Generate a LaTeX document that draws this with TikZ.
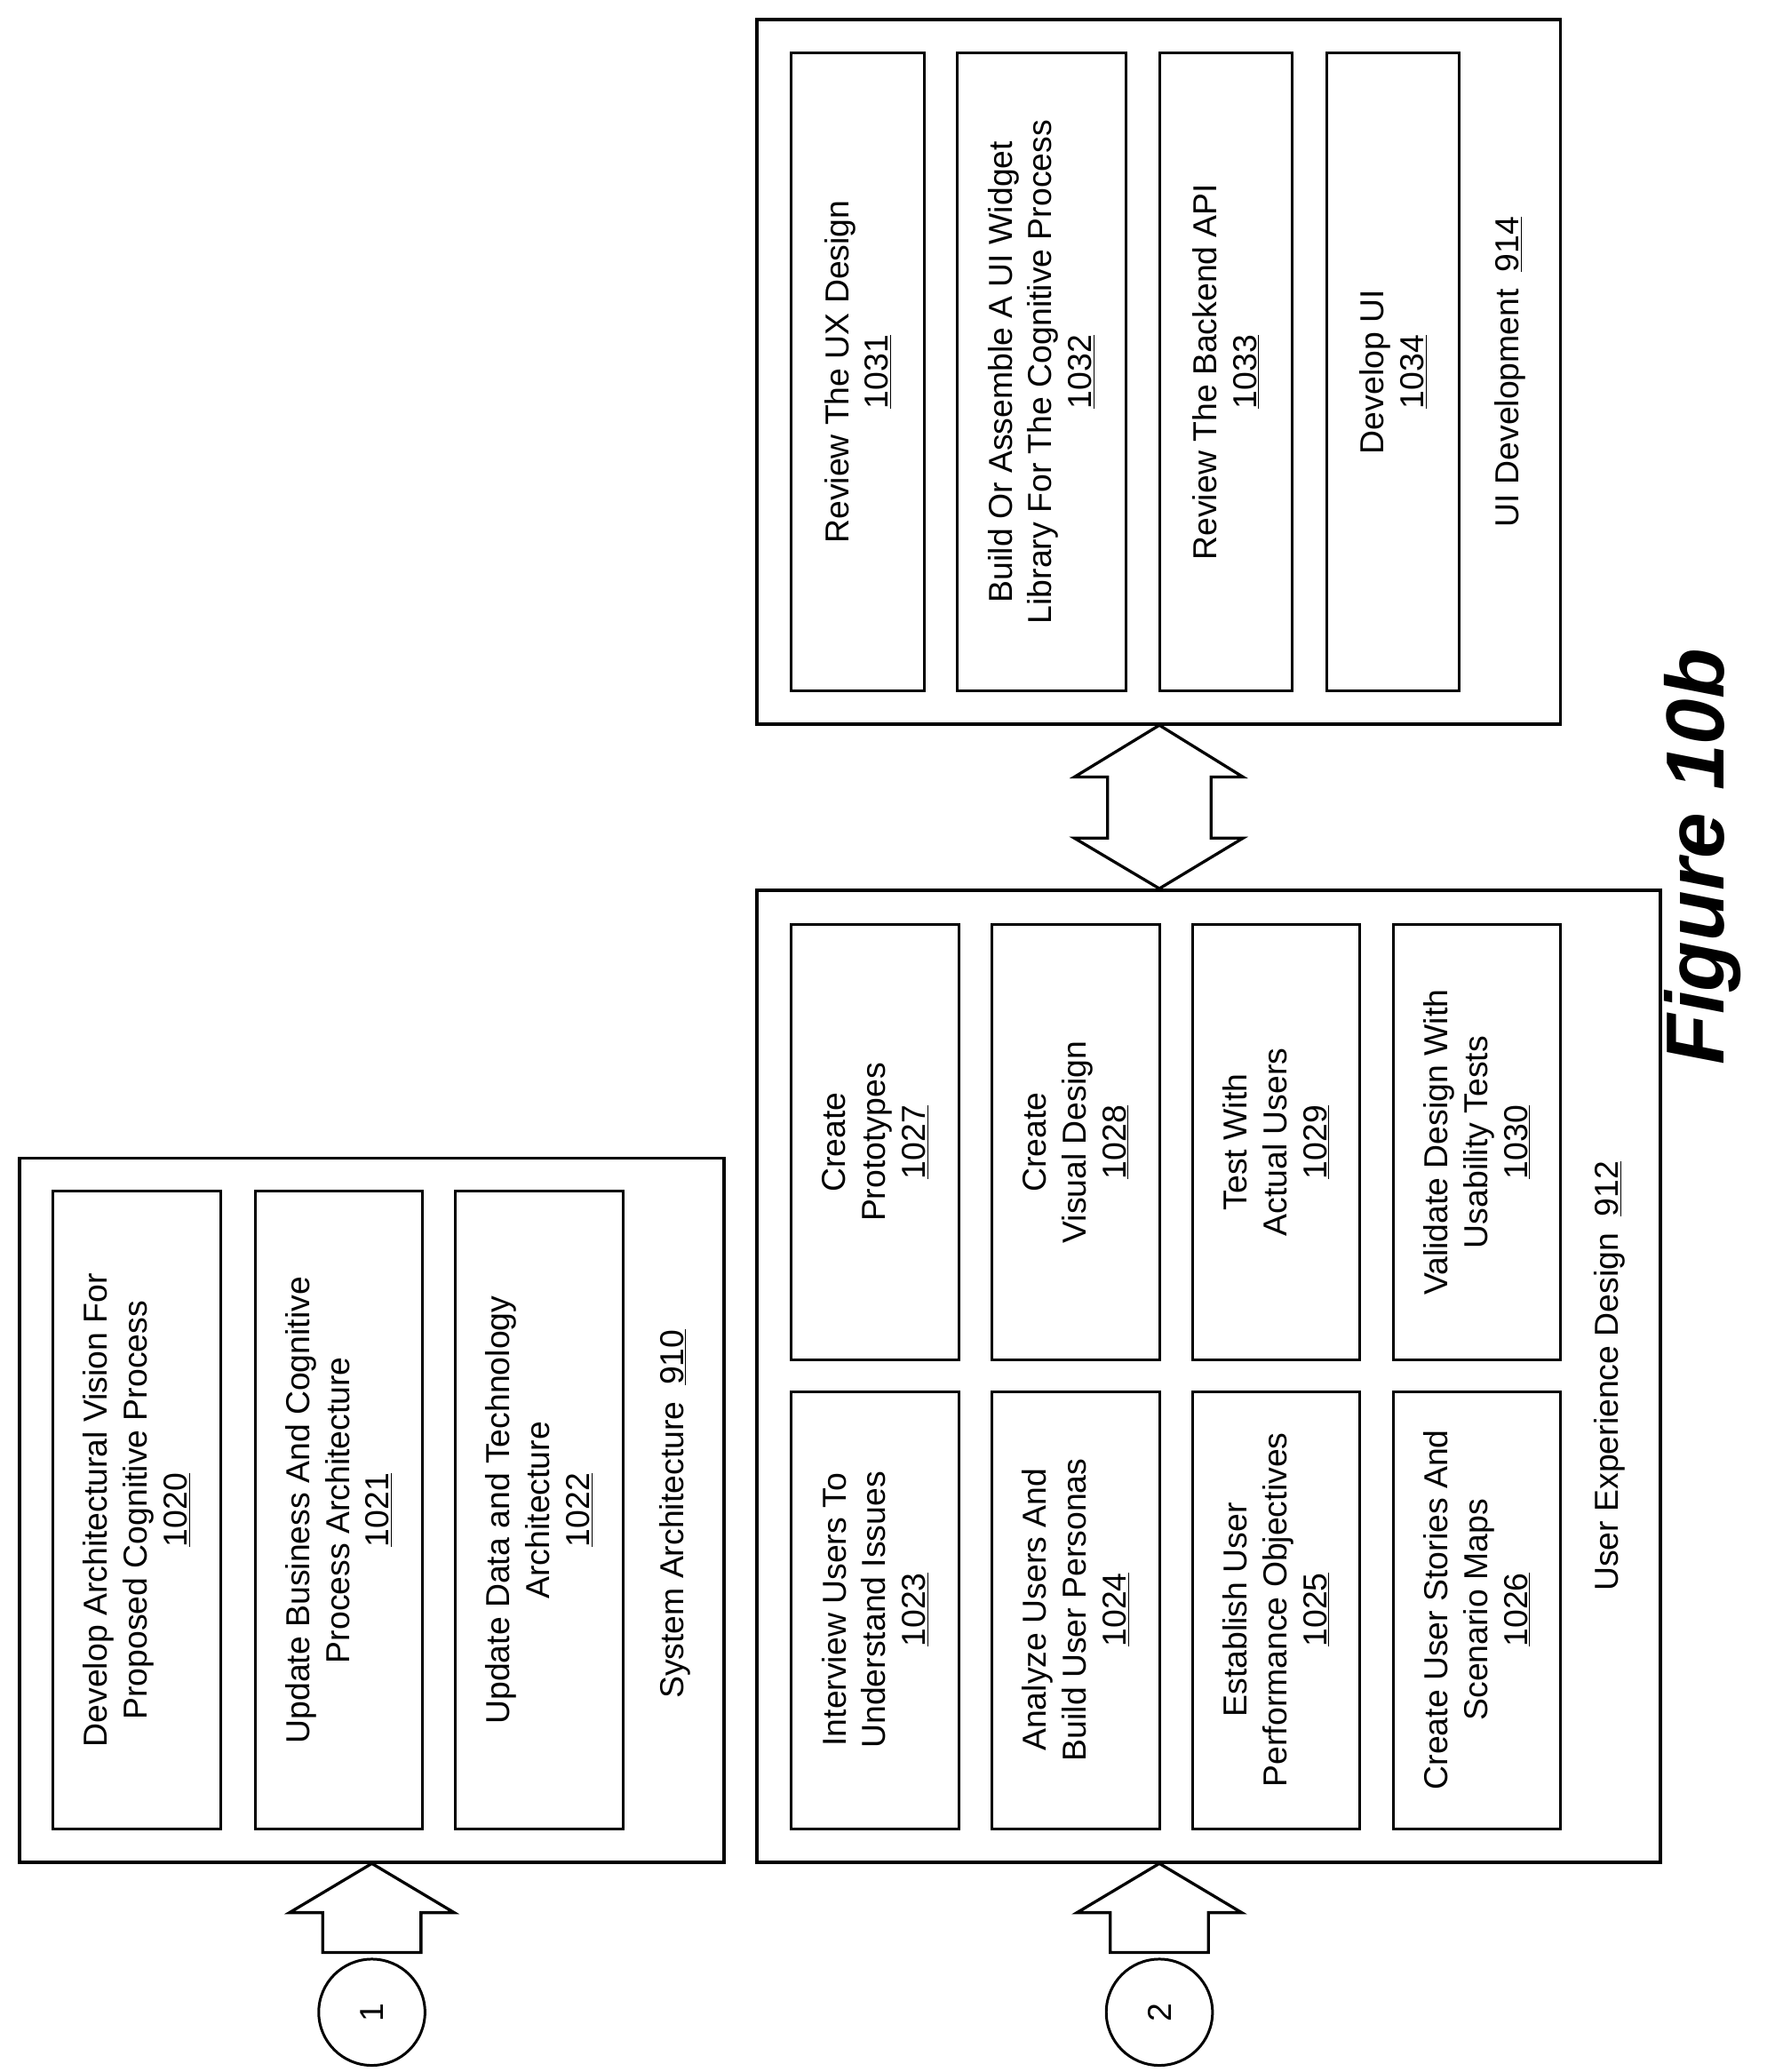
\documentclass[tikz,border=0pt]{standalone}
\usepackage{fontspec}
\setmainfont{Liberation Sans}
\begin{document}
\begin{tikzpicture}[x=1pt,y=-1pt,
  outer/.style={draw,line width=2.6pt},
  inner/.style={draw,line width=2pt},
  txt/.style={rotate=90,align=center,font=\fontsize{25}{30}\selectfont},
  barrow/.style={draw,line width=2.2pt,fill=white,line join=miter}]
\useasboundingbox (0,0) rectangle (1330,1560);
% System Architecture
\draw[outer] (15,872) rectangle (545,1402);
\foreach \x/\n in {40/a,192/b,343/c}{\draw[inner] (\x,897) rectangle (\x+126,1377);}
\node[txt] (t1020) at (103,1137) {Develop Architectural Vision For\\Proposed Cognitive Process\\\underline{1020}};
\node[txt] (t1021) at (255,1137) {Update Business And Cognitive\\Process Architecture\\\underline{1021}};
\node[txt] (t1022) at (406,1137) {Update Data and Technology\\Architecture\\\underline{1022}};
\node[txt] (l910) at (508,1140) {System Architecture\enspace\underline{910}};
% UX design
\draw[outer] (570,670) rectangle (1250,1402);
\foreach \x in {596,747,898,1049}{
  \draw[inner] (\x,1048) rectangle (\x+126,1377);
  \draw[inner] (\x,696) rectangle (\x+126,1024);}
\node[txt] (t1023) at (659,1212) {Interview Users To\\Understand Issues\\\underline{1023}};
\node[txt] (t1024) at (810,1212) {Analyze Users And\\Build User Personas\\\underline{1024}};
\node[txt] (t1025) at (961,1212) {Establish User\\Performance Objectives\\\underline{1025}};
\node[txt] (t1026) at (1112,1212) {Create User Stories And\\Scenario Maps\\\underline{1026}};
\node[txt] (t1027) at (659,860) {Create\\Prototypes\\\underline{1027}};
\node[txt] (t1028) at (810,860) {Create\\Visual Design\\\underline{1028}};
\node[txt] (t1029) at (961,860) {Test With\\Actual Users\\\underline{1029}};
\node[txt] (t1030) at (1112,860) {Validate Design With\\Usability Tests\\\underline{1030}};
\node[txt] (l912) at (1212,1036) {User Experience Design\enspace\underline{912}};
% UI development
\draw[outer] (570,15) rectangle (1175,545);
\foreach \x/\w in {596/100,721/127,873/100,999/100}{\draw[inner] (\x,40) rectangle (\x+\w,520);}
\node[txt] (t1031) at (646,280) {Review The UX Design\\\underline{1031}};
\node[txt] (t1032) at (784,280) {Build Or Assemble A UI Widget\\Library For The Cognitive Process\\\underline{1032}};
\node[txt] (t1033) at (923,280) {Review The Backend API\\\underline{1033}};
\node[txt] (t1034) at (1049,280) {Develop UI\\\underline{1034}};
\node[txt] (l914) at (1137,280) {UI Development\enspace\underline{914}};
% arrows up
\foreach \c in {280,873}{
  \draw[barrow] (\c,1403) -- (\c+62,1440) -- (\c+37,1440) -- (\c+37,1470) -- (\c-37,1470) -- (\c-37,1440) -- (\c-62,1440) -- cycle;}
% double arrow
\draw[barrow] (873,546) -- (936,585) -- (912,585) -- (912,631) -- (936,631) -- (873,669) -- (809,631) -- (834,631) -- (834,585) -- (809,585) -- cycle;
% circles
\node[draw,circle,line width=2pt,minimum size=80pt,inner sep=0pt,font=\fontsize{25}{30}\selectfont,rotate=90] (c1) at (280,1515) {1};
\node[draw,circle,line width=2pt,minimum size=80pt,inner sep=0pt,font=\fontsize{25}{30}\selectfont,rotate=90] (c2) at (873,1515) {2};
% figure label
\node[rotate=90,font=\fontsize{62}{70}\selectfont\bfseries\itshape] (fig) at (1282,645) {Figure 10b};
\end{tikzpicture}
\end{document}
